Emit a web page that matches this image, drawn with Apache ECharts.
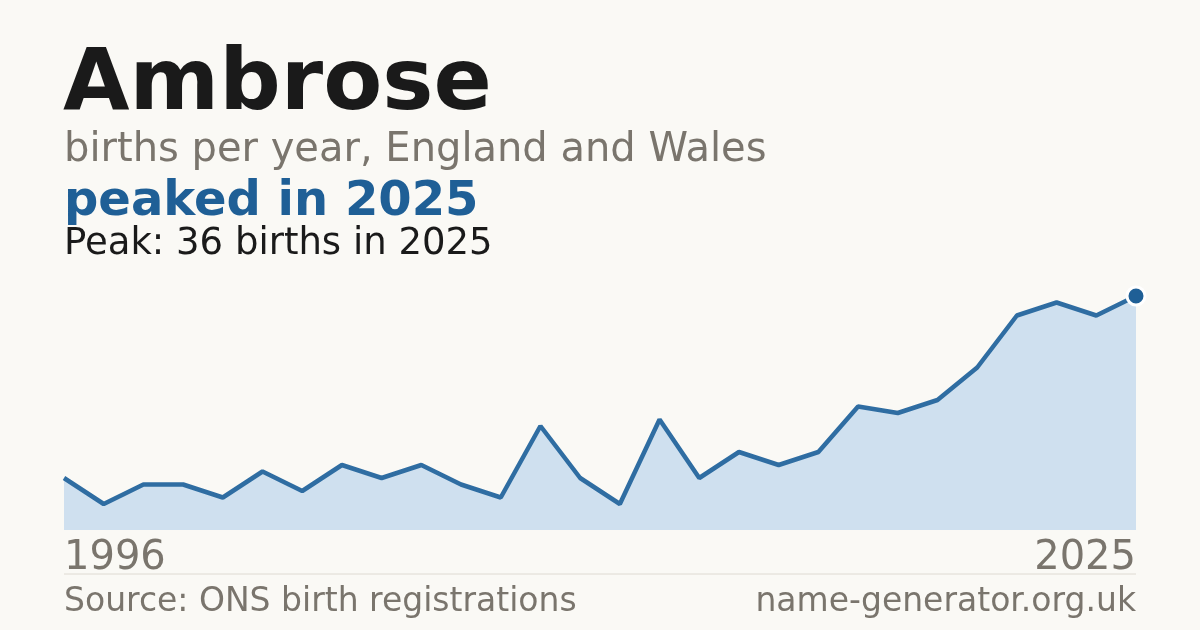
<!DOCTYPE html>
<html>
<head>
<meta charset="utf-8">
<script src="https://cdn.jsdelivr.net/npm/echarts@6/dist/echarts.min.js"></script>
<style>
  html, body { margin: 0; padding: 0; background: #faf9f5; }
  #chart { width: 1200px; height: 630px; }
</style>
</head>
<body>
<div id="chart"></div>
<script>
// data
var years = ['1996','1997','1999','2000','2001','2002','2003','2004','2005','2006',
             '2007','2008','2009','2010','2011','2012','2013','2014','2015','2016',
             '2017','2018','2019','2020','2022','2023','2024','2025'];
var births = [8,4,7,7,5,9,6,10,8,10,7,5,16,8,4,17,8,12,10,12,19,18,20,25,33,35,33,36];

var FONT = 'DejaVu Sans';
var GREY = '#7a756d';
var BLUE = '#1f5f96';

var chart = echarts.init(document.getElementById('chart'));

var last = years.length - 1;

// only the final (peak) year gets a dot
var lineData = births.map(function (v, i) {
  if (i !== last) return v;
  return {
    value: v,
    symbol: 'circle',
    symbolSize: 18,
    itemStyle: { color: BLUE, borderColor: '#ffffff', borderWidth: 3 }
  };
});

var option = {
  backgroundColor: '#faf9f5',
  animation: false,
  title: [
    { text: 'Ambrose', left: 63, top: 44, padding: 0,
      textStyle: { fontFamily: FONT, fontSize: 86, fontWeight: 'bold', color: '#1a1a1a' } },
    { text: 'births per year, England and Wales', left: 64, top: 131, padding: 0,
      textStyle: { fontFamily: FONT, fontSize: 40, fontWeight: 'normal', color: GREY } },
    { text: 'peaked in 2025', left: 64, top: 179, padding: 0,
      textStyle: { fontFamily: FONT, fontSize: 48, fontWeight: 'bold', color: BLUE } },
    { text: 'Peak: 36 births in 2025', left: 64, top: 226, padding: 0,
      textStyle: { fontFamily: FONT, fontSize: 37, fontWeight: 'normal', color: '#1a1a1a' } },
    { text: 'Source: ONS birth registrations', left: 64, top: 586, padding: 0,
      textStyle: { fontFamily: FONT, fontSize: 33, fontWeight: 'normal', color: GREY } },
    { text: 'name-generator.org.uk', right: 64, top: 586, padding: 0,
      textStyle: { fontFamily: FONT, fontSize: 33, fontWeight: 'normal', color: GREY } }
  ],
  grid: { left: 64, right: 64, top: 296, bottom: 100 },
  xAxis: {
    type: 'category',
    data: years,
    boundaryGap: false,
    axisLine: { show: false },
    axisTick: { show: false },
    axisLabel: {
      interval: function (i) { return i === 0 || i === last; },
      showMinLabel: true, showMaxLabel: true,
      alignMinLabel: 'left', alignMaxLabel: 'right',
      margin: 9,
      fontFamily: FONT, fontSize: 40, color: GREY
    }
  },
  yAxis: {
    type: 'value', min: 0, max: 36,
    show: false,
    splitLine: { show: false }
  },
  graphic: [
    { type: 'line', shape: { x1: 64, y1: 574, x2: 1136, y2: 574 },
      style: { stroke: '#dedad2', lineWidth: 1 } }
  ],
  series: [{
    type: 'line',
    data: lineData,
    symbol: 'none',
    showSymbol: true,
    showAllSymbol: true,
    lineStyle: { color: '#2f6da2', width: 4.5 },
    areaStyle: { color: '#cfe0ef', opacity: 1 }
  }]
};
chart.setOption(option);
</script>
</body>
</html>
